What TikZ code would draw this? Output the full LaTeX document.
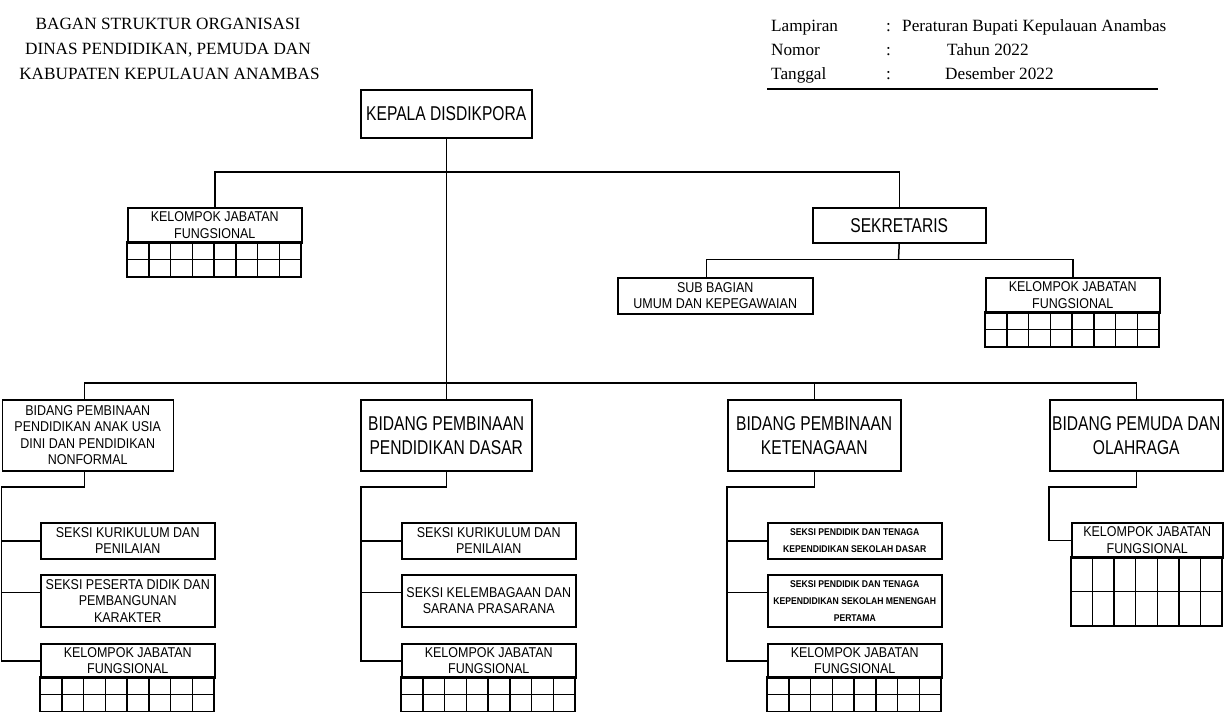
\documentclass[tikz,border=0pt]{standalone}
\usepackage{fontspec}
\setmainfont{Liberation Serif}
\newfontfamily\bigf[FakeStretch=0.78]{Liberation Sans}
\newfontfamily\smallf[FakeStretch=0.88]{Liberation Sans}
\newfontfamily\tinyf[FakeStretch=0.88]{Liberation Sans}
\usetikzlibrary{calc}
\newcommand\jgrid[5]{% #1 x, #2 y top, #3 ncols, #4 cell w, #5 row h
  \draw[link] (#1,#2) rectangle ({#1+#3*#4},{#2+2*#5});
  \draw[link] (#1,{#2+#5}) -- ({#1+#3*#4},{#2+#5});
  \pgfmathtruncatemacro\jlast{#3-1}
  \foreach \i in {1,...,\jlast} \draw[link] ({#1+\i*#4},#2) -- ({#1+\i*#4},{#2+2*#5});
}
\begin{document}
\begin{tikzpicture}[x=1pt,y=-1pt,
  link/.style={draw=black,line width=1.5pt},
  frame/.style={draw=black,line width=1.5pt,inner sep=0pt,align=center,anchor=north west},
  bigtxt/.style={font=\bigf\fontsize{20}{24}\selectfont},
  smalltxt/.style={font=\smallf\fontsize{14.2}{16.5}\selectfont},
  tinytxt/.style={font=\tinyf\bfseries\fontsize{9.8}{17}\selectfont},
  hdr/.style={font=\fontsize{17.2}{24}\selectfont,inner sep=0pt},
]
\useasboundingbox (0,0) rectangle (1227,712);
\fill[white] (0,0) rectangle (1227,712);

% header left
\node[hdr,anchor=base] (h1) at (168,30) {BAGAN STRUKTUR ORGANISASI};
\node[hdr,anchor=base] (h2) at (168,54.5) {DINAS PENDIDIKAN, PEMUDA DAN};
\node[hdr,anchor=base] (h3) at (169.5,79) {KABUPATEN KEPULAUAN ANAMBAS};
% header right
\node[hdr,anchor=base west] (l1) at (771,31) {Lampiran};
\node[hdr,anchor=base west] (c1) at (886,31) {:};
\node[hdr,anchor=base west] (v1) at (902,31) {Peraturan Bupati Kepulauan Anambas};
\node[hdr,anchor=base west] (l2) at (771,55) {Nomor};
\node[hdr,anchor=base west] (c2) at (886,55) {:};
\node[hdr,anchor=base west] (v2) at (947,55) {Tahun 2022};
\node[hdr,anchor=base west] (l3) at (771,79) {Tanggal};
\node[hdr,anchor=base west] (c3) at (886,79) {:};
\node[hdr,anchor=base west] (v3) at (945,79) {Desember 2022};
\coordinate (ulA) at (767,89);
\coordinate (ulB) at (1158,89);
\draw[line width=2pt] (ulA) -- (ulB);

% top level
\node[frame,bigtxt,minimum width=171,minimum height=48] (kepala) at (360,89) {KEPALA DISDIKPORA};
\node[frame,smalltxt,minimum width=174,minimum height=35] (kjfA) at (127,207) {KELOMPOK JABATAN\\FUNGSIONAL};
\jgrid{127}{242}{8}{21.75}{17.5}
\node[frame,bigtxt,minimum width=173,minimum height=35] (sekre) at (812,207) {SEKRETARIS};
\node[frame,smalltxt,minimum width=195,minimum height=36] (subbag) at (617,277) {SUB BAGIAN\\UMUM DAN KEPEGAWAIAN};
\node[frame,smalltxt,minimum width=174,minimum height=35] (kjfB) at (985,277) {KELOMPOK JABATAN\\FUNGSIONAL};
\jgrid{985}{312}{8}{21.75}{17.5}

% bidang row
\node[frame,smalltxt,minimum width=171,minimum height=71] (paud) at (1.5,399) {BIDANG PEMBINAAN\\PENDIDIKAN ANAK USIA\\DINI DAN PENDIDIKAN\\NONFORMAL};
\node[frame,bigtxt,minimum width=171,minimum height=71] (dasar) at (360,399) {BIDANG PEMBINAAN\\PENDIDIKAN DASAR};
\node[frame,bigtxt,minimum width=173,minimum height=71] (tenaga) at (727,399) {BIDANG PEMBINAAN\\KETENAGAAN};
\node[frame,bigtxt,minimum width=173,minimum height=71] (pemuda) at (1049,399) {BIDANG PEMUDA DAN\\OLAHRAGA};

% column PAUD
\node[frame,smalltxt,minimum width=174,minimum height=36] (paudA) at (40,522) {SEKSI KURIKULUM DAN\\PENILAIAN};
\node[frame,smalltxt,minimum width=174,minimum height=52] (paudB) at (40,574) {SEKSI PESERTA DIDIK DAN\\PEMBANGUNAN\\KARAKTER};
\node[frame,smalltxt,minimum width=174,minimum height=34] (paudK) at (40,643) {KELOMPOK JABATAN\\FUNGSIONAL};
\jgrid{40}{677}{8}{21.75}{17.5}

% column DASAR
\node[frame,smalltxt,minimum width=174,minimum height=36] (dasarA) at (401,522) {SEKSI KURIKULUM DAN\\PENILAIAN};
\node[frame,smalltxt,minimum width=174,minimum height=52] (dasarB) at (401,574) {SEKSI KELEMBAGAAN DAN\\SARANA PRASARANA};
\node[frame,smalltxt,minimum width=174,minimum height=34] (dasarK) at (401,643) {KELOMPOK JABATAN\\FUNGSIONAL};
\jgrid{401}{677}{8}{21.75}{17.5}

% column KETENAGAAN
\node[frame,tinytxt,minimum width=174,minimum height=36] (tenagaA) at (767,522) {SEKSI PENDIDIK DAN TENAGA\\KEPENDIDIKAN SEKOLAH DASAR};
\node[frame,tinytxt,minimum width=174,minimum height=52] (tenagaB) at (767,574) {SEKSI PENDIDIK DAN TENAGA\\KEPENDIDIKAN SEKOLAH MENENGAH\\PERTAMA};
\node[frame,smalltxt,minimum width=174,minimum height=34] (tenagaK) at (767,643) {KELOMPOK JABATAN\\FUNGSIONAL};
\jgrid{767}{677}{8}{21.75}{17.5}

% column PEMUDA
\node[frame,smalltxt,minimum width=151,minimum height=35] (pemudaK) at (1071,522) {KELOMPOK JABATAN\\FUNGSIONAL};
\jgrid{1071}{557}{7}{21.571}{34.5}

% connectors top
\draw[link] (kepala.south) -- (kepala.south |- dasar.north);
\coordinate (barTop) at (445.5,172);
\draw[link] (kjfA.north) |- (barTop) -| (sekre.north);
\coordinate (barS) at (898.5,259.5);
\draw[link] (sekre.south) -- (barS);
\coordinate (subIn) at ($(subbag.north)+(-9,0)$);
\draw[link] (subIn) |- (barS) -| (kjfB.north);

% bidang bar
\coordinate (barB) at (445.5,383);
\coordinate (paudTop) at ($(paud.north)+(-3.5,0)$);
\draw[link] (paudTop) |- (barB) -| (pemuda.north);
\draw[link] (tenaga.north) -- (tenaga.north |- barB);

% column connectors
\coordinate (paudBot) at ($(paud.south)+(-3.5,0)$);
\coordinate (colP) at (1.5,487);
\draw[link] (paudBot) |- (colP) |- (paudK.west);
\draw[link] (paudA.west) -- (paudA.west -| colP);
\coordinate (paudBin) at ($(paudB.west)+(0,-8.3)$);
\draw[link] (paudBin) -- (paudBin -| colP);

\coordinate (colD) at (361,487);
\draw[link] (dasar.south) |- (colD) |- (dasarK.west);
\draw[link] (dasarA.west) -- (dasarA.west -| colD);
\coordinate (dasarBin) at ($(dasarB.west)+(0,-8.3)$);
\draw[link] (dasarBin) -- (dasarBin -| colD);

\coordinate (colT) at (727,487);
\draw[link] (tenaga.south) |- (colT) |- (tenagaK.west);
\draw[link] (tenagaA.west) -- (tenagaA.west -| colT);
\coordinate (tenagaBin) at ($(tenagaB.west)+(0,-8.3)$);
\draw[link] (tenagaBin) -- (tenagaBin -| colT);

\coordinate (colM) at (1049,487);
\draw[link] (pemuda.south) |- (colM) |- (pemudaK.west);
\end{tikzpicture}
\end{document}
